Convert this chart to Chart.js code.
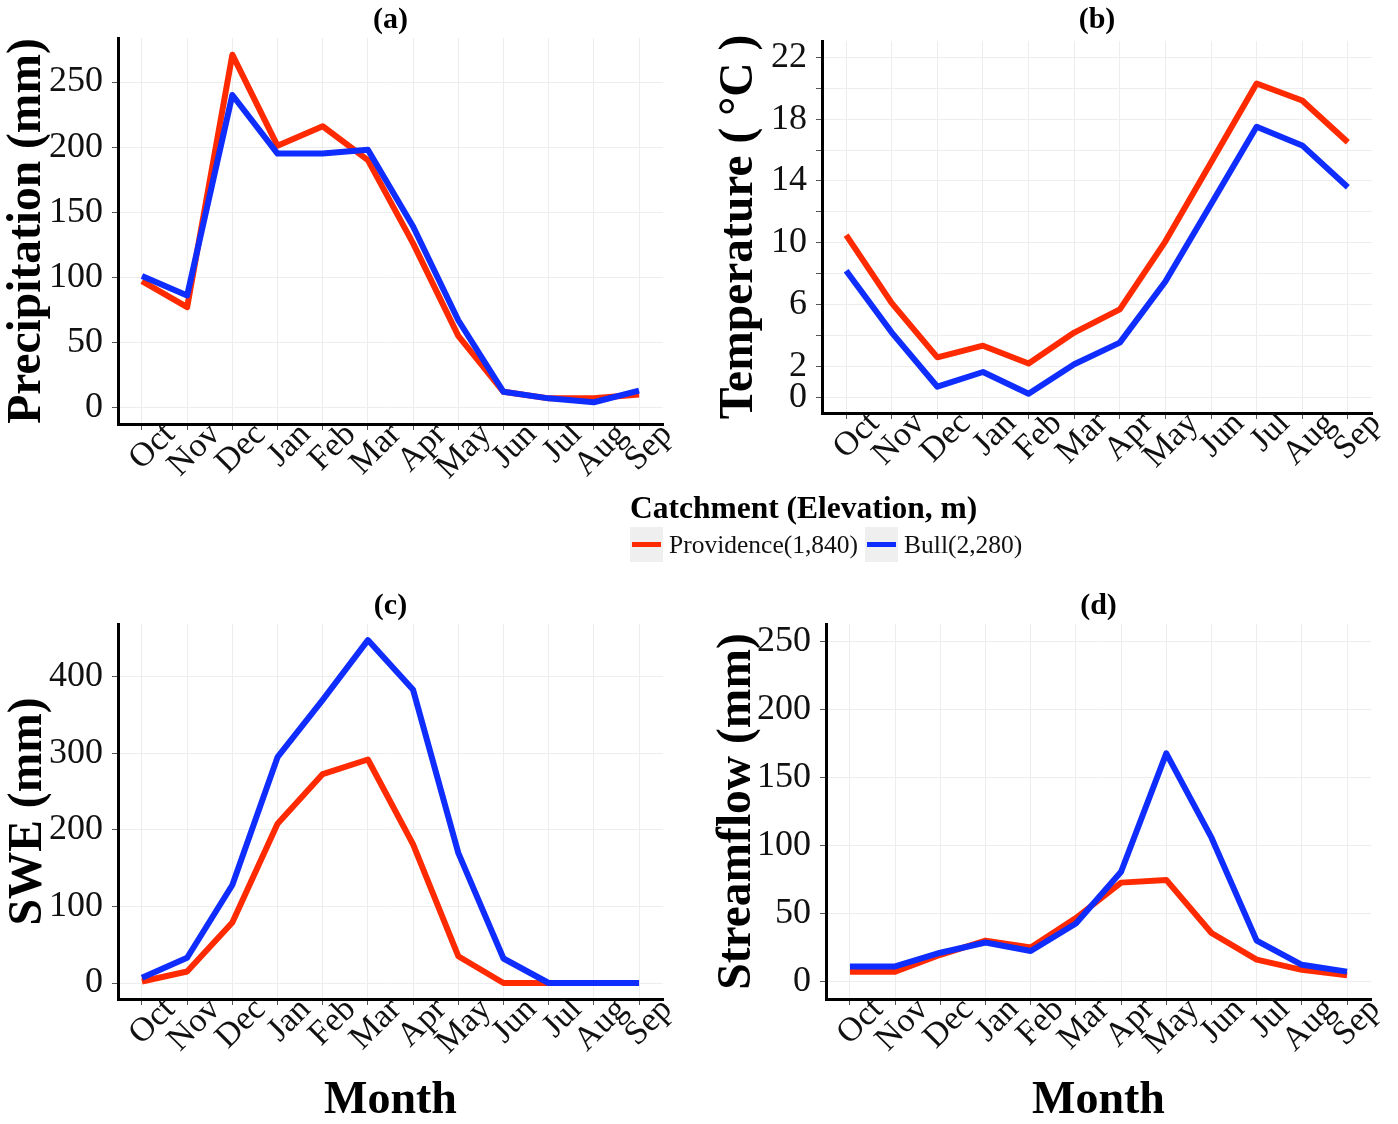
<!DOCTYPE html>
<html>
<head>
<meta charset="utf-8">
<title>Catchment climate</title>
<script src="https://cdn.jsdelivr.net/npm/chart.js@4.4.1/dist/chart.umd.min.js"></script>
<style>
  body { margin: 0; background: #fff; }
  #wrap { position: relative; width: 1398px; height: 1124px; font-family: 'Liberation Serif', 'Times New Roman', serif; }
  #wrap canvas { position: absolute; }
  #legendTitle { position: absolute; left: 630px; top: 490px; height: 36px; line-height: 36px; font-size: 31.5px; font-weight: bold; color: #000; white-space: nowrap; }
  #legendItems { position: absolute; left: 630px; top: 527px; height: 35px; display: flex; align-items: center; white-space: nowrap; }
  .key { position: relative; width: 33px; height: 35px; background: #efefef; margin-right: 6px; }
  .key span { position: absolute; left: 2px; right: 2px; top: 15px; height: 5px; }
  .lbl { font-size: 25.5px; color: #111; margin-right: 7px; line-height: 35px; }
</style>
</head>
<body>
<div id="wrap">
  <canvas id="chartA" width="700" height="500" style="left:0px;top:0px"></canvas>
  <canvas id="chartB" width="698" height="500" style="left:700px;top:0px"></canvas>
  <canvas id="chartC" width="700" height="544" style="left:0px;top:580px"></canvas>
  <canvas id="chartD" width="698" height="544" style="left:700px;top:580px"></canvas>
  <div id="legendTitle">Catchment (Elevation, m)</div>
  <div id="legendItems"></div>
</div>
<script>
// ========== data ==========
const months = ['Oct', 'Nov', 'Dec', 'Jan', 'Feb', 'Mar', 'Apr', 'May', 'Jun', 'Jul', 'Aug', 'Sep']
const seriesNames = ['Providence(1,840)', 'Bull(2,280)']
const seriesColors = ['#ff2a00', '#0f2dff']

const precipProvidence = [97, 77, 271, 201, 216, 190, 126, 55, 12, 7, 7, 10]
const precipBull = [101, 86, 240, 195, 195, 198, 139, 67, 12, 7, 4, 13]
const precipTicks = [0, 50, 100, 150, 200, 250]

const tempProvidence = [10.5, 6.1, 2.6, 3.35, 2.2, 4.2, 5.7, 10.1, 15.2, 20.3, 19.2, 16.5]
const tempBull = [8.2, 4.2, 0.7, 1.65, 0.25, 2.15, 3.55, 7.5, 12.5, 17.5, 16.3, 13.6]
const tempTicks = [0, 2, 4, 6, 8, 10, 12, 14, 16, 18, 20, 22]
const tempLabels = [0, 2, 6, 10, 14, 18, 22]

const sweProvidence = [2, 15, 79, 208, 273, 292, 181, 35, 0, 0, 0, 0]
const sweBull = [7, 33, 128, 295, 370, 448, 383, 170, 32, 0, 0, 0]
const sweTicks = [0, 100, 200, 300, 400]

const flowProvidence = [7.6, 7.6, 20, 30.4, 25.3, 47, 73, 75, 36, 16.4, 8.9, 5]
const flowBull = [11.4, 11.4, 21.5, 29, 22.8, 43, 81, 168, 106, 30.4, 12.6, 7.6]
const flowTicks = [0, 50, 100, 150, 200, 250]

const serif = "'Liberation Serif', 'Times New Roman', serif"

// ========== function to build one panel ==========
function makeChart(id, o) {
    const ctx = document.getElementById(id).getContext('2d')
    const toPoints = arr => arr.map((v, i) => ({ x: i, y: v }))
    const lineStyle = {
        borderWidth: 6,
        pointRadius: 0,
        borderJoinStyle: 'round',
        borderCapStyle: 'butt',
        tension: 0,
        fill: false
    }
    return new Chart(ctx, {
        type: 'line',
        data: {
            datasets: [
                { ...lineStyle, label: seriesNames[0], data: toPoints(o.red), borderColor: seriesColors[0], order: 2 },
                { ...lineStyle, label: seriesNames[1], data: toPoints(o.blue), borderColor: seriesColors[1], order: 1 }
            ]
        },
        options: {
            responsive: false,
            animation: false,
            devicePixelRatio: 1,
            layout: { padding: { left: 0, right: o.padRight, top: 0, bottom: 0 } },
            plugins: {
                legend: { display: false },
                tooltip: { enabled: false },
                title: {
                    display: true,
                    text: o.title,
                    fullSize: false,
                    color: '#000',
                    font: { family: serif, size: 30, weight: 'bold', lineHeight: 1 },
                    padding: { top: o.titleTop, bottom: o.titleBottom }
                }
            },
            scales: {
                x: {
                    type: 'linear',
                    min: -0.53,
                    max: 11.53,
                    afterBuildTicks: s => { s.ticks = months.map((m, i) => ({ value: i })) },
                    afterFit: s => { s.height = o.xHeight },
                    ticks: {
                        autoSkip: false,
                        minRotation: 45,
                        maxRotation: 45,
                        padding: -15,
                        labelOffset: 28,
                        color: '#111',
                        font: { family: serif, size: 34, lineHeight: 1.2 },
                        callback: v => months[v]
                    },
                    grid: { color: '#ededed', lineWidth: 1, tickLength: 6, tickColor: '#555', tickWidth: 1 },
                    border: { display: true, color: '#000', width: 3 },
                    title: {
                        display: o.showMonth,
                        text: 'Month',
                        color: '#000',
                        font: { family: serif, size: 46, weight: 'bold', lineHeight: 1 },
                        padding: { top: 0, bottom: 0 }
                    }
                },
                y: {
                    type: 'linear',
                    min: o.yMin,
                    max: o.yMax,
                    afterBuildTicks: s => { s.ticks = o.ticks.map(v => ({ value: v })) },
                    afterFit: s => { s.width = o.yWidth },
                    ticks: {
                        autoSkip: false,
                        padding: 9,
                        color: '#111',
                        font: { family: serif, size: 36 },
                        callback: v => o.labels.includes(v) ? String(v) : ''
                    },
                    grid: { color: '#ededed', lineWidth: 1, tickLength: 6, tickColor: '#555', tickWidth: 1 },
                    border: { display: true, color: '#000', width: 3 },
                    title: {
                        display: true,
                        text: o.yTitle,
                        color: '#000',
                        font: { family: serif, size: 47.5, weight: 'bold', lineHeight: 1 },
                        padding: { top: o.yTitlePad, bottom: 0 }
                    }
                }
            }
        }
    })
}

// ========== the four panels ==========
makeChart('chartA', {
    title: '(a)', red: precipProvidence, blue: precipBull,
    ticks: precipTicks, labels: precipTicks, yMin: -12.7, yMax: 283.8,
    yTitle: 'Precipitation (mm)', yTitlePad: 4, yWidth: 118, padRight: 37,
    xHeight: 76, titleTop: 5, titleBottom: 3, showMonth: false
})
makeChart('chartB', {
    title: '(b)', red: tempProvidence, blue: tempBull,
    ticks: tempTicks, labels: tempLabels, yMin: -1.0, yMax: 23.05,
    yTitle: 'Temperature ( °C )', yTitlePad: 16, yWidth: 122, padRight: 26,
    xHeight: 87, titleTop: 5, titleBottom: 6, showMonth: false
})
makeChart('chartC', {
    title: '(c)', red: sweProvidence, blue: sweBull,
    ticks: sweTicks, labels: sweTicks, yMin: -20.9, yMax: 469,
    yTitle: 'SWE (mm)', yTitlePad: 5, yWidth: 118, padRight: 37,
    xHeight: 125, titleTop: 11, titleBottom: 3, showMonth: true
})
makeChart('chartD', {
    title: '(d)', red: flowProvidence, blue: flowBull,
    ticks: flowTicks, labels: flowTicks, yMin: -12.5, yMax: 263,
    yTitle: 'Streamflow (mm)', yTitlePad: 14, yWidth: 126, padRight: 27,
    xHeight: 125, titleTop: 11, titleBottom: 3, showMonth: true
})

// ========== shared legend ==========
const legendItems = document.getElementById('legendItems')
let cartona = ''
for (let i = 0; i < seriesNames.length; i++) {
    cartona += `<div class="key"><span style="background:${seriesColors[i]}"></span></div><div class="lbl">${seriesNames[i]}</div>`
}
legendItems.innerHTML = cartona
</script>
</body>
</html>
